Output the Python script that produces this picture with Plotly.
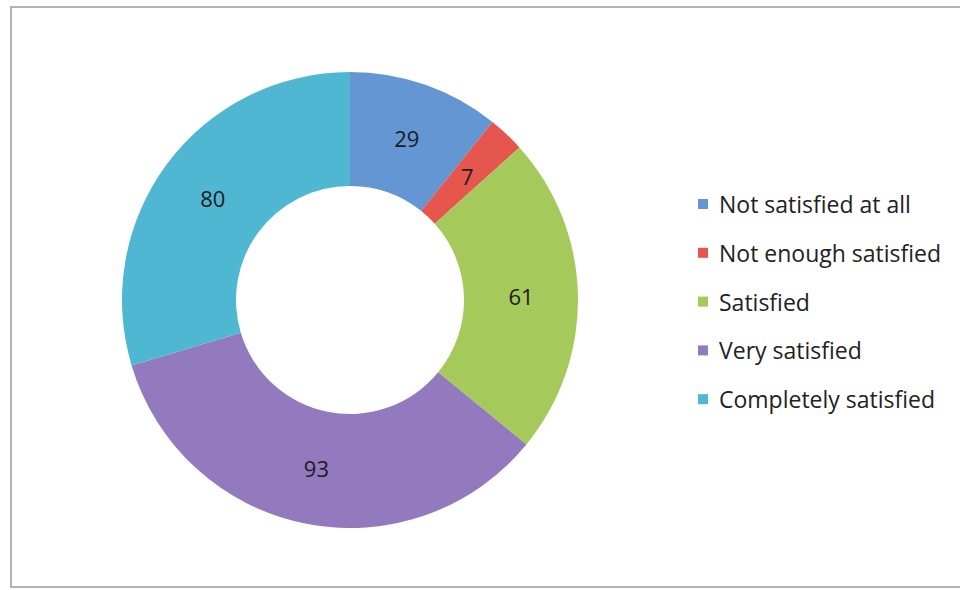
import math
import plotly.graph_objects as go

# Satisfaction survey responses
categories = ["Not satisfied at all", "Not enough satisfied", "Satisfied",
              "Very satisfied", "Completely satisfied"]
counts = [29, 7, 61, 93, 80]
colors = ["#6396d3", "#e5564f", "#a6c95b", "#9379bd", "#50b7d2"]

W, H = 960, 590
FONT = "Open Sans"
LABEL_FONT = dict(family=FONT, size=22, color="#1c1c24")

def px_x(x):
    return x / W

def px_y(y):
    return 1 - y / H

# Donut geometry (pixels)
cx, cy, r, hole = 350, 300, 228, 0.5

# Thin slices get their value label placed at mid-ring by hand;
# the rest use the pie's own inside text.
total = sum(counts)
thin = [v / total < 0.05 for v in counts]
templates = ["" if t else "%{value}" for t in thin]

fig = go.Figure(go.Pie(
    labels=categories,
    values=counts,
    marker=dict(colors=colors, line=dict(width=0)),
    hole=hole,
    sort=False,
    direction="clockwise",
    rotation=0,
    texttemplate=templates,
    textposition="inside",
    insidetextorientation="horizontal",
    textfont=LABEL_FONT,
    domain=dict(x=[px_x(cx - r), px_x(cx + r)], y=[px_y(cy + r), px_y(cy - r)]),
    showlegend=False,
))

annotations = []
cum = 0
r_mid = r * (1 + hole) / 2
for v, t in zip(counts, thin):
    if t:
        ang = 2 * math.pi * (cum + v / 2) / total
        annotations.append(dict(xref="paper", yref="paper",
                                x=px_x(cx + r_mid * math.sin(ang)),
                                y=px_y(cy - r_mid * math.cos(ang)),
                                xanchor="center", yanchor="middle", showarrow=False,
                                text=str(v), font=LABEL_FONT))
    cum += v

# Legend drawn as colour swatches with labels
leg_x, leg_y0, leg_dy, sw = 698, 204, 48.8, 10
shapes = []
for i, (lab, col) in enumerate(zip(categories, colors)):
    yc = leg_y0 + i * leg_dy
    shapes.append(dict(type="rect", xref="paper", yref="paper",
                       x0=px_x(leg_x), x1=px_x(leg_x + sw),
                       y0=px_y(yc + sw / 2), y1=px_y(yc - sw / 2),
                       fillcolor=col, line=dict(width=0)))
    annotations.append(dict(xref="paper", yref="paper", x=px_x(leg_x + 19), y=px_y(yc),
                            xanchor="left", yanchor="middle", showarrow=False,
                            text=lab, font=dict(family=FONT, size=23, color="#222222")))

# Chart frame
shapes.append(dict(type="rect", xref="paper", yref="paper",
                   x0=px_x(11), x1=px_x(964), y0=px_y(587), y1=px_y(7),
                   line=dict(color="#b3b3b3", width=2), fillcolor="rgba(0,0,0,0)"))

fig.update_layout(
    width=W, height=H,
    margin=dict(l=0, r=0, t=0, b=0),
    paper_bgcolor="white",
    plot_bgcolor="white",
    shapes=shapes,
    annotations=annotations,
)

fig.write_html("out.html")
